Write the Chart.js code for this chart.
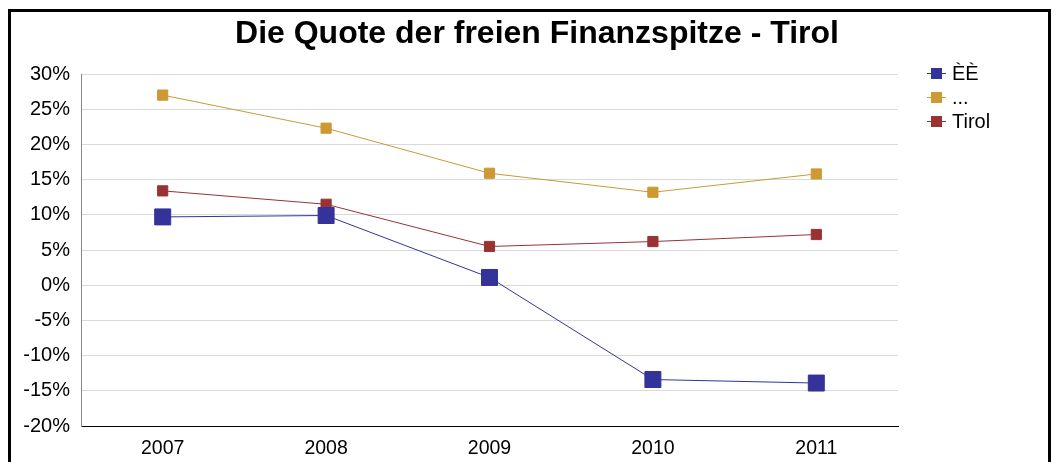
<!DOCTYPE html>
<html>
<head>
<meta charset="utf-8">
<script src="https://cdn.jsdelivr.net/npm/chart.js@4"></script>
<style>
  html, body { margin: 0; padding: 0; background: #fff; }
  #wrap { position: relative; width: 1057px; height: 462px; }
  #frame { position: absolute; left: 8px; top: 9px; width: 1043px; height: 460px;
           border: 3px solid #000; border-bottom: none; box-sizing: border-box; }
  canvas { position: absolute; left: 0; top: 0; }
</style>
</head>
<body>
<div id="wrap">
  <div id="frame"></div>
  <canvas id="chart" width="1057" height="462"></canvas>
</div>
<script>
const years = ["2007", "2008", "2009", "2010", "2011"];
const seriesNames = ["ÈÈ", "...", "Tirol"];
const blueVals = [9.7, 9.9, 1.1, -13.4, -13.9];
const goldVals = [27.0, 22.3, 15.9, 13.2, 15.8];
const redVals = [13.4, 11.5, 5.5, 6.2, 7.2];
const colors = ["#333399", "#cc9933", "#993333"];

const FONT = "'Liberation Sans', Arial, sans-serif";

// title + legend drawn by hand
const extras = {
    id: "extras",
    afterDraw(chart) {
        const ctx = chart.ctx;
        ctx.save();
        ctx.fillStyle = "#000";
        ctx.font = "bold 32px " + FONT;
        ctx.textAlign = "center";
        ctx.textBaseline = "middle";
        ctx.fillText("Die Quote der freien Finanzspitze - Tirol", 537, 34);

        ctx.font = "20px " + FONT;
        ctx.textAlign = "left";
        seriesNames.forEach((name, i) => {
            const y = 73 + i * 24;
            ctx.strokeStyle = colors[i];
            ctx.lineWidth = 1;
            ctx.beginPath();
            ctx.moveTo(927, y + 0.5);
            ctx.lineTo(946, y + 0.5);
            ctx.stroke();
            ctx.fillStyle = colors[i];
            ctx.fillRect(931, y - 5, 11, 11);
            ctx.fillStyle = "#000";
            ctx.fillText(name, 952, y + 1);
        });
        ctx.restore();
    }
};

new Chart(document.getElementById("chart"), {
    type: "line",
    data: {
        labels: years,
        datasets: [
            { label: seriesNames[0], data: blueVals, borderColor: colors[0], backgroundColor: colors[0],
              borderWidth: 1, pointStyle: "rect", pointRadius: 11.3, pointHoverRadius: 11.3 },
            { label: seriesNames[1], data: goldVals, borderColor: colors[1], backgroundColor: colors[1],
              borderWidth: 1, pointStyle: "rect", pointRadius: 7.2, pointHoverRadius: 7.2 },
            { label: seriesNames[2], data: redVals, borderColor: colors[2], backgroundColor: colors[2],
              borderWidth: 1, pointStyle: "rect", pointRadius: 7.2, pointHoverRadius: 7.2 }
        ]
    },
    options: {
        responsive: false,
        animation: false,
        layout: { padding: { top: 74, right: 159, left: 0, bottom: 0 } },
        plugins: { legend: { display: false }, title: { display: false }, tooltip: { enabled: false } },
        scales: {
            x: {
                offset: true,
                grid: { display: false, drawTicks: false },
                border: { color: "#000", width: 1 },
                ticks: { color: "#000", font: { family: FONT, size: 19.5 }, padding: 11 },
                afterFit(scale) { scale.height = 36; }
            },
            y: {
                min: -20, max: 30,
                grid: { color: "#d9d9d9", drawTicks: false },
                border: { color: "#888", width: 1 },
                ticks: { stepSize: 5, color: "#000", font: { family: FONT, size: 20 }, padding: 11,
                         callback: v => v + "%" },
                afterFit(scale) { scale.width = 81; }
            }
        }
    },
    plugins: [extras]
});
</script>
</body>
</html>
